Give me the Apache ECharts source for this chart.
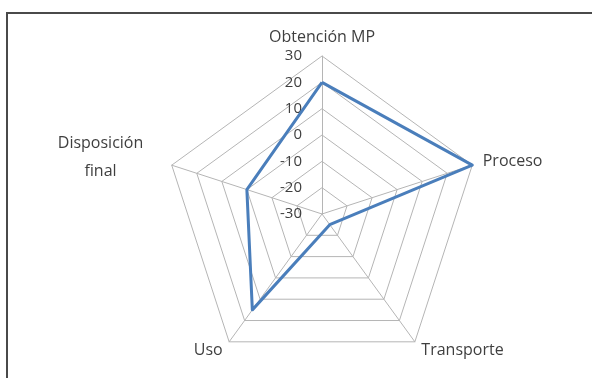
<!DOCTYPE html>
<html>
<head>
<meta charset="utf-8">
<script src="https://cdn.jsdelivr.net/npm/echarts@6/dist/echarts.min.js"></script>
<style>
  html, body { margin: 0; padding: 0; background: #ffffff; }
  #chart { position: absolute; left: 0; top: 0; width: 592px; height: 378px; }
  #frame { position: absolute; left: 6px; top: 12px; right: 0; bottom: 0;
           border-left: 2px solid #4a4a4a; border-top: 2px solid #4a4a4a; pointer-events: none; }
</style>
</head>
<body>
<div id="chart"></div>
<div id="frame"></div>
<script>
// Life-cycle stages (clockwise from the top) and their scores
const stages = ['Obtención MP', 'Proceso', 'Transporte', 'Uso', 'Disposición final'];
const scores = [20, 30, -25, 15, 0];
// Radial scale
const scaleMin = -30;
const scaleMax = 30;
const scaleSteps = 6;

// The radar lays indicators out counter-clockwise, so walk the stages backwards after the first
const order = [0].concat(stages.map((_, i) => i).slice(1).reverse());

const chart = echarts.init(document.getElementById('chart'));

const indicators = order.map((idx, k) => {
  const ind = { name: stages[idx], min: scaleMin, max: scaleMax };
  // Only the vertical axis carries tick labels
  if (k === 0) ind.axisLabel = { show: true };
  return ind;
});

chart.setOption({
  animation: false,
  radar: {
    center: [322, 214],
    radius: 158,
    startAngle: 90,
    shape: 'polygon',
    splitNumber: scaleSteps,
    indicator: indicators,
    nameGap: 11,
    axisName: {
      color: '#3f3f3f',
      fontFamily: 'Open Sans',
      fontSize: 16,
      formatter: function (name) {
        if (name === 'Disposición final') {
          return '{d|Disposición\nfinal}';
        }
        return name;
      },
      rich: {
        d: {
          color: '#3f3f3f',
          fontFamily: 'Open Sans',
          fontSize: 16,
          lineHeight: 28,
          align: 'center',
          padding: [0, 18, 8, 0]
        }
      }
    },
    axisLine: { lineStyle: { color: '#b5b5b5', width: 1 } },
    splitLine: { lineStyle: { color: '#b5b5b5', width: 1 } },
    splitArea: { show: false },
    axisTick: { show: false },
    axisLabel: {
      show: false,
      color: '#3f3f3f',
      fontFamily: 'Open Sans',
      fontSize: 15,
      margin: 20,
      align: 'right'
    }
  },
  series: [{
    type: 'radar',
    symbol: 'none',
    lineStyle: { color: '#4a7ebb', width: 3 },
    data: [{ value: order.map(idx => scores[idx]), name: 'Impacto' }]
  }]
});
</script>
</body>
</html>
